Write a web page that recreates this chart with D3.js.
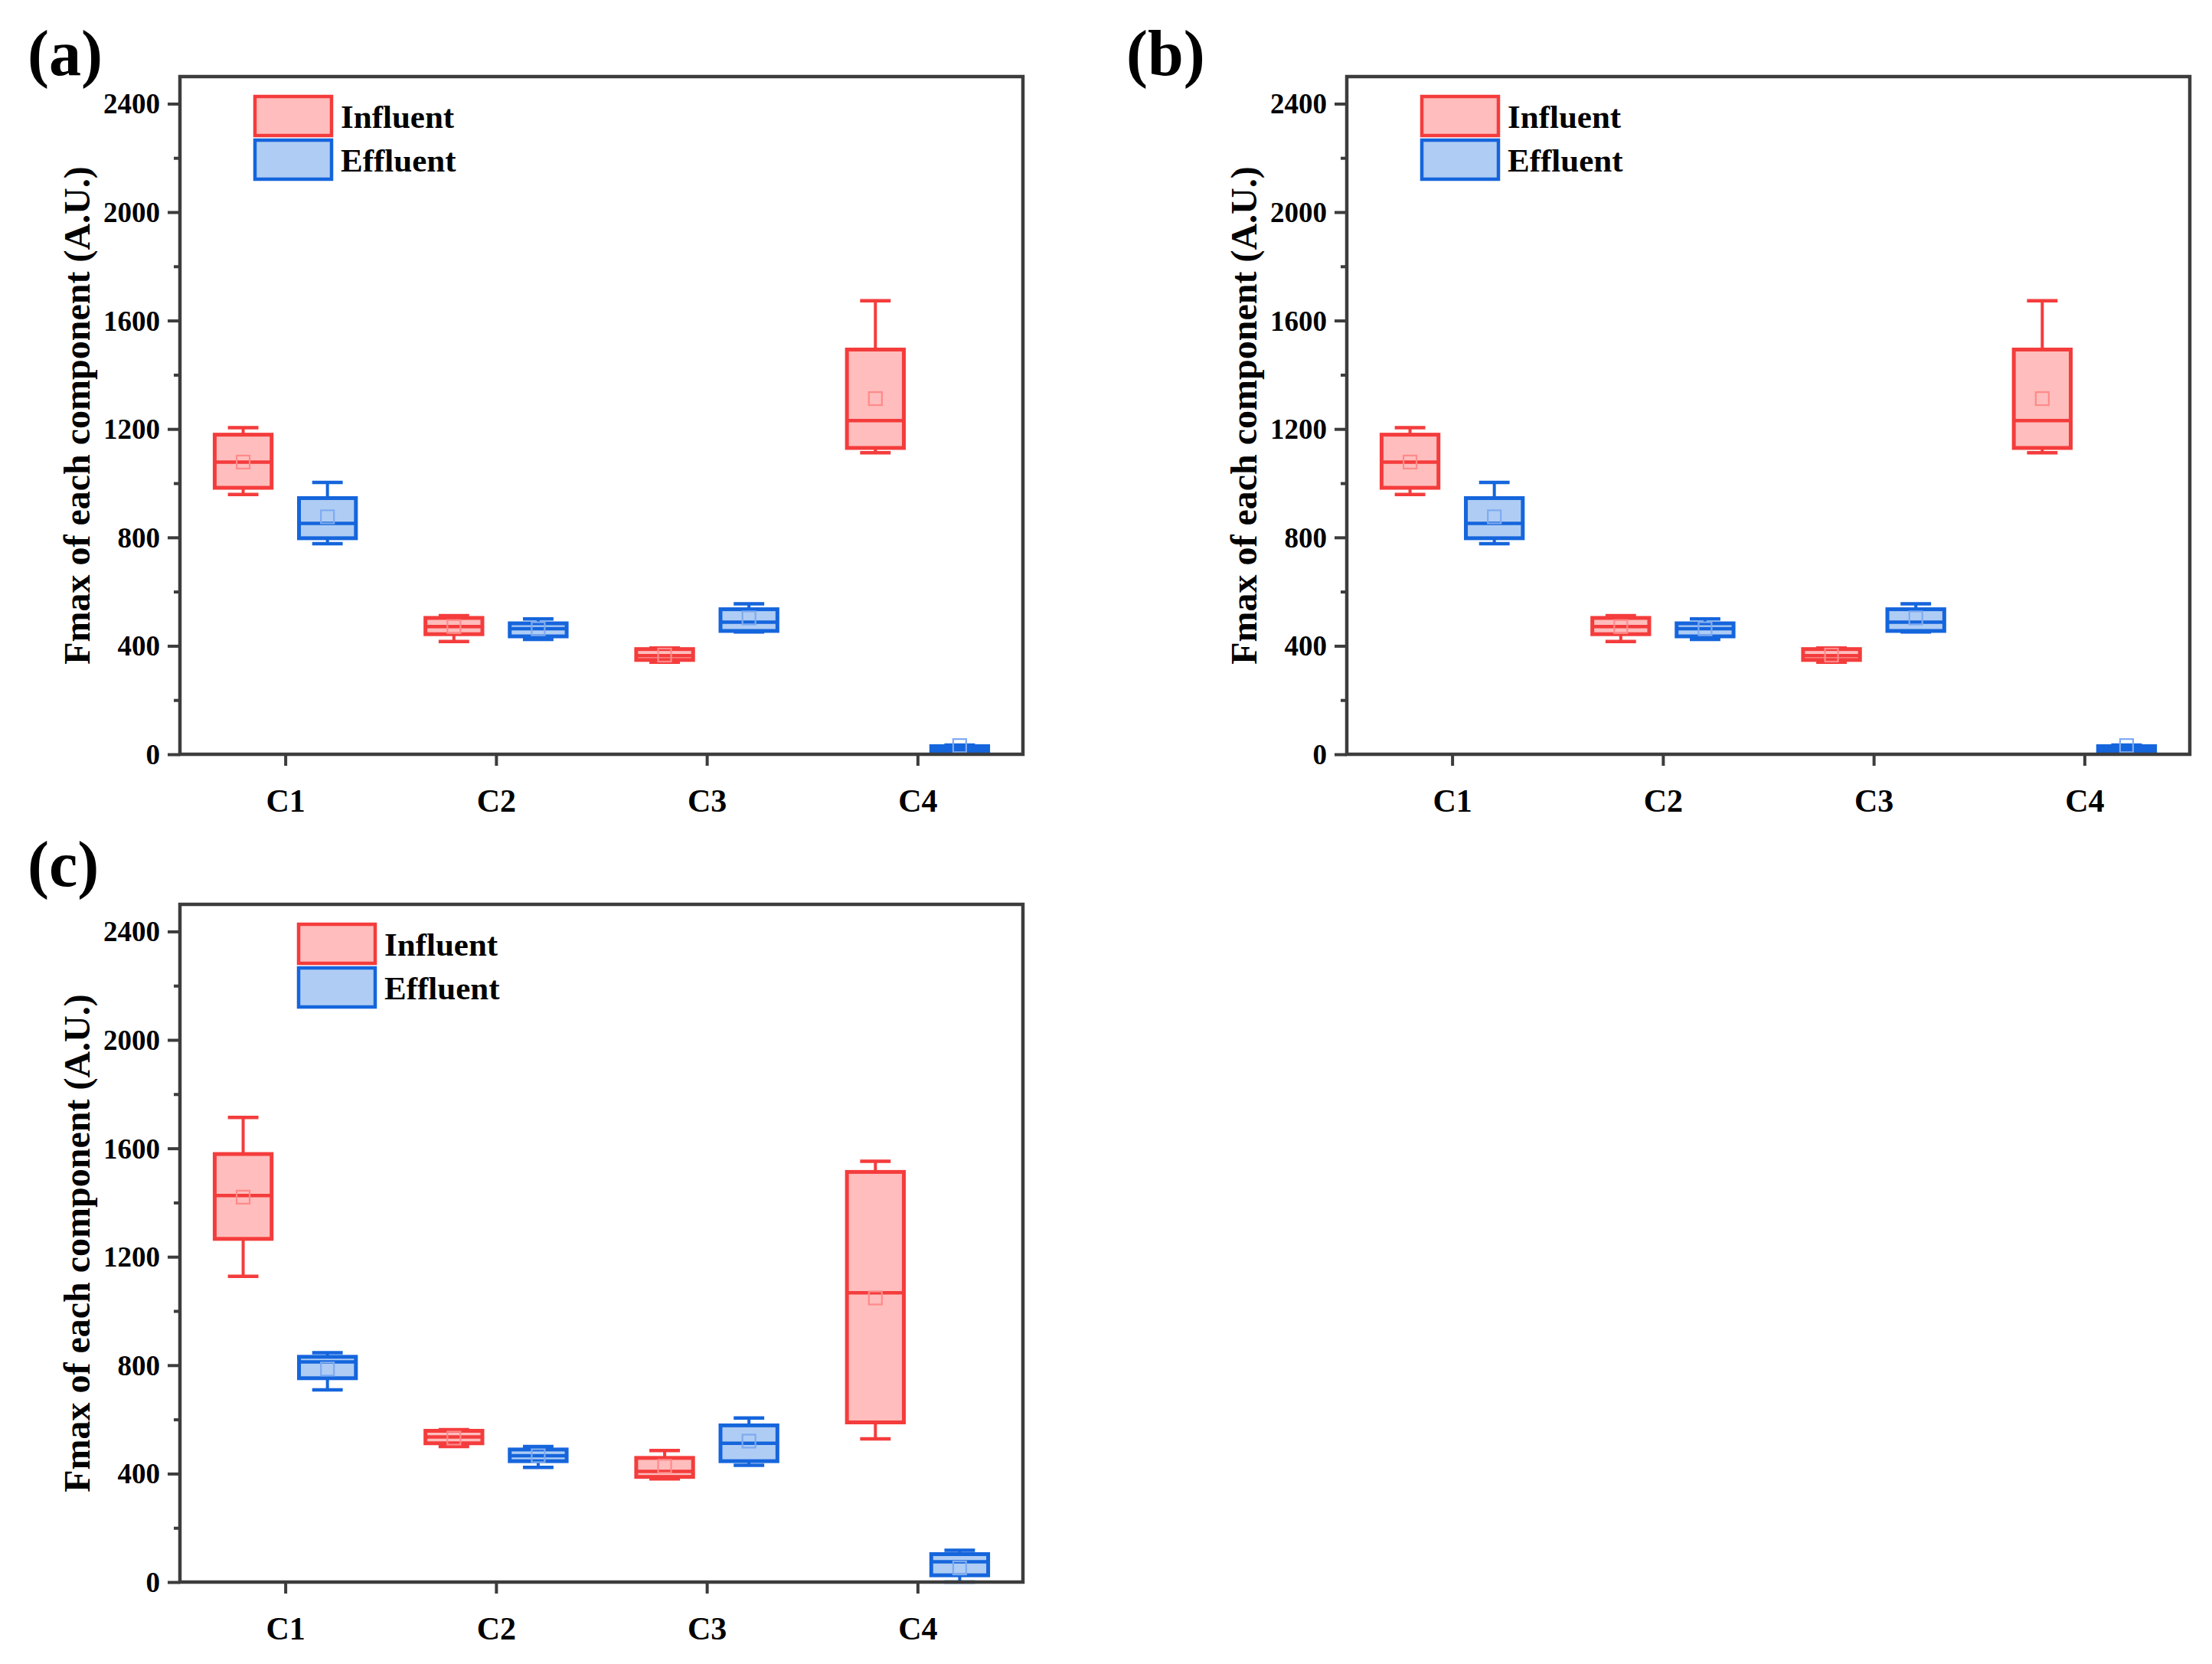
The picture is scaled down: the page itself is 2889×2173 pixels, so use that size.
<!DOCTYPE html>
<html>
<head>
<meta charset="utf-8">
<script src="https://cdn.jsdelivr.net/npm/d3@7"></script>
<style>
  html, body { margin: 0; padding: 0; background: #ffffff; }
  svg { display: block; }
  text { font-family: "Liberation Serif", "Times New Roman", serif; font-weight: bold; fill: #000; }
</style>
</head>
<body>
<svg id="chart" width="2889" height="2173"></svg>
<script>
// ---------- DATA ----------
const categories = ["C1", "C2", "C3", "C4"];
const seriesNames = ["Influent", "Effluent"];
const yTicks = [0, 400, 800, 1200, 1600, 2000, 2400];
const yMinorTicks = [200, 600, 1000, 1400, 1800, 2200];
const yLabel = "Fmax of each component (A.U.)";
const panelLabels = ["(a)", "(b)", "(c)"];
// each entry: [min, q1, median, q3, max, mean] per category
const panelA_influent = [[958, 983, 1078, 1179, 1205, 1078], [416, 443, 471, 503, 511, 471], [340, 348, 364, 388, 392, 366], [1112, 1130, 1231, 1493, 1673, 1312]];
const panelA_effluent = [[777, 797, 852, 945, 1003, 876], [424, 435, 463, 483, 499, 463], [451, 455, 487, 535, 555, 503], [2, 9, 19, 30, 34, 32]];
const panelB_influent = [[958, 983, 1078, 1179, 1205, 1078], [416, 443, 471, 503, 511, 471], [340, 348, 364, 388, 392, 366], [1112, 1130, 1231, 1493, 1673, 1312]];
const panelB_effluent = [[777, 797, 852, 945, 1003, 876], [424, 435, 463, 483, 499, 463], [451, 455, 487, 535, 555, 503], [2, 9, 19, 30, 34, 32]];
const panelC_influent = [[1128, 1266, 1426, 1579, 1714, 1420], [500, 512, 535, 558, 562, 531], [381, 388, 408, 458, 485, 427], [528, 589, 1067, 1513, 1552, 1048]];
const panelC_effluent = [[709, 752, 812, 831, 846, 786], [423, 446, 466, 489, 500, 466], [431, 446, 512, 578, 605, 520], [0, 25, 75, 103, 117, 52]];

// ---------- STYLE / LAYOUT ----------
const strokeColors = ["#f43c3c", "#1565dc"];
const fillColors = ["#ffbdbd", "#afcdf4"];
const meanColors = ["#ff8a8a", "#7eaaf0"];
const frameW = 1101, frameH = 885;
const panels = [
  { fx: 235, fy: 100, label: panelLabels[0], lx: 36, ly: 98, legX: 98, inf: panelA_influent, eff: panelA_effluent },
  { fx: 1759, fy: 100, label: panelLabels[1], lx: 1471, ly: 98, legX: 98, inf: panelB_influent, eff: panelB_effluent },
  { fx: 235, fy: 1181, label: panelLabels[2], lx: 36, ly: 1157, legX: 155, inf: panelC_influent, eff: panelC_effluent }
];

const svg = d3.select("#chart");
svg.append("rect").attr("width", 2889).attr("height", 2173).attr("fill", "#fff");

const x = d3.scaleLinear().domain([0.5, 4.5]).range([0, frameW]);
const y = d3.scaleLinear().domain([0, 2500]).range([frameH, 0]);
const offset = 0.2, boxW = 0.27, capW = 0.145;

panels.forEach(p => {
  const g = svg.append("g").attr("transform", `translate(${p.fx},${p.fy})`);

  // panel label
  svg.append("text").attr("x", p.lx).attr("y", p.ly)
    .attr("font-size", 84).text(p.label);

  // boxes
  [p.inf, p.eff].forEach((series, si) => {
    const sg = g.append("g");
    series.forEach((d, ci) => {
      const [mn, q1, md, q3, mx, mean] = d;
      const cx = x(ci + 1 + (si === 0 ? -offset : offset));
      const hw = (x(1 + boxW) - x(1)) / 2;
      const cw = (x(1 + capW) - x(1)) / 2;
      const c = strokeColors[si];
      // whiskers
      sg.append("line").attr("x1", cx).attr("x2", cx).attr("y1", y(q3)).attr("y2", y(mx))
        .attr("stroke", c).attr("stroke-width", 4);
      sg.append("line").attr("x1", cx).attr("x2", cx).attr("y1", y(q1)).attr("y2", y(mn))
        .attr("stroke", c).attr("stroke-width", 4);
      sg.append("line").attr("x1", cx - cw).attr("x2", cx + cw).attr("y1", y(mx)).attr("y2", y(mx))
        .attr("stroke", c).attr("stroke-width", 4.5);
      sg.append("line").attr("x1", cx - cw).attr("x2", cx + cw).attr("y1", y(mn)).attr("y2", y(mn))
        .attr("stroke", c).attr("stroke-width", 4.5);
      // box
      sg.append("rect").attr("x", cx - hw).attr("y", y(q3)).attr("width", hw * 2)
        .attr("height", Math.max(y(q1) - y(q3), 1))
        .attr("fill", fillColors[si]).attr("stroke", c).attr("stroke-width", 5);
      // median
      sg.append("line").attr("x1", cx - hw).attr("x2", cx + hw).attr("y1", y(md)).attr("y2", y(md))
        .attr("stroke", c).attr("stroke-width", 4.5);
      // mean marker
      sg.append("rect").attr("x", cx - 8.5).attr("y", y(mean) - 8.5).attr("width", 17).attr("height", 17)
        .attr("fill", "none").attr("stroke", meanColors[si]).attr("stroke-width", 2.2);
    });
  });

  // frame
  g.append("rect").attr("x", 0).attr("y", 0).attr("width", frameW).attr("height", frameH)
    .attr("fill", "none").attr("stroke", "#3c3c3c").attr("stroke-width", 4.5);

  // y axis ticks
  const yAxis = d3.axisLeft(y).tickValues(yTicks).tickSize(16).tickPadding(10).tickFormat(d3.format("d"));
  const ya = g.append("g").call(yAxis);
  ya.select(".domain").remove();
  ya.selectAll(".tick line").attr("stroke", "#3c3c3c").attr("stroke-width", 4);
  ya.selectAll(".tick text").attr("font-size", 37).attr("font-family", "Liberation Serif, serif")
    .attr("font-weight", "bold").attr("fill", "#000").attr("dy", "0.34em");
  const yMinor = d3.axisLeft(y).tickValues(yMinorTicks).tickSize(8).tickFormat("");
  const ym = g.append("g").call(yMinor);
  ym.select(".domain").remove();
  ym.selectAll(".tick line").attr("stroke", "#3c3c3c").attr("stroke-width", 4);

  // x axis
  const xAxis = d3.axisBottom(x).tickValues([1, 2, 3, 4]).tickSize(15).tickPadding(30)
    .tickFormat(d => categories[d - 1]);
  const xa = g.append("g").attr("transform", `translate(0,${frameH})`).call(xAxis);
  xa.select(".domain").remove();
  xa.selectAll(".tick line").attr("stroke", "#3c3c3c").attr("stroke-width", 4);
  xa.selectAll(".tick text").attr("font-size", 42).attr("font-family", "Liberation Serif, serif")
    .attr("font-weight", "bold").attr("fill", "#000");

  // y title
  g.append("text").attr("transform", `translate(${-135},${frameH / 2}) rotate(-90)`)
    .attr("text-anchor", "middle").attr("dominant-baseline", "central")
    .attr("font-size", 48).text(yLabel);

  // legend
  const lg = g.append("g").attr("transform", `translate(${p.legX},26)`);
  seriesNames.forEach((name, i) => {
    lg.append("rect").attr("x", 0).attr("y", i * 57).attr("width", 100).attr("height", 51)
      .attr("fill", fillColors[i]).attr("stroke", strokeColors[i]).attr("stroke-width", 4.5);
    lg.append("text").attr("x", 112).attr("y", i * 57 + 41).attr("font-size", 43).text(name);
  });
});
</script>
</body>
</html>
